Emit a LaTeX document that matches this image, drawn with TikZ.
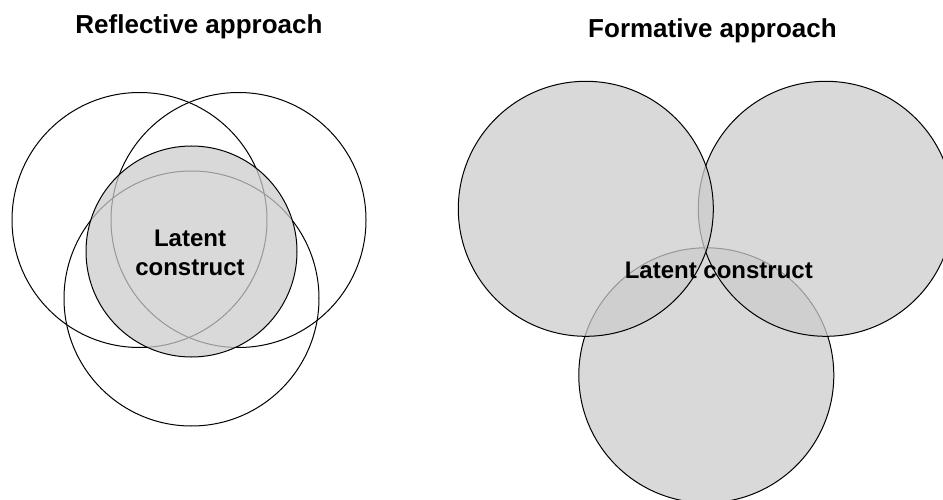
\documentclass[tikz,border=0pt]{standalone}
\usepackage{fontspec}
\setmainfont{Liberation Sans}
\begin{document}
\begin{tikzpicture}[x=1pt,y=-1pt,
  ring/.style={circle,draw=black,line width=1pt,minimum size=#1,inner sep=0pt,outer sep=0pt},
  ring/.default=255pt,
  shaded/.style={ring=#1,fill=black!20,fill opacity=.74},
  shaded/.default=255pt,
  heading/.style={font=\fontsize{26}{31}\selectfont\bfseries,anchor=base,inner sep=0pt},
  label/.style={font=\fontsize{24}{29}\selectfont\bfseries,align=center,inner sep=0pt}]
\useasboundingbox (0,0) rectangle (943,500);
\clip (0,0) rectangle (943,500);

% reflective approach: three indicator circles around a shared construct
\node[heading] (refl) at (199,33.3) {Reflective approach};
\node[ring] (ra) at (139.5,220) {};
\node[ring] (rb) at (238.5,220) {};
\node[ring] (rc) at (191.5,298.5) {};
\node[shaded=211pt] (rs) at (191.5,251.5) {};
\node[label] (rlat) at (190,252.6) {Latent\\construct};

% formative approach: three indicators jointly forming the construct
\node[heading] (form) at (712.5,37.3) {Formative approach};
\node[shaded] (fc) at (706.3,375.3) {};
\node[shaded] (fb) at (825.8,208.8) {};
\node[shaded] (fa) at (585.8,208.8) {};
\node[label,anchor=base] (flat) at (718.8,278.3) {Latent construct};
\end{tikzpicture}
\end{document}
